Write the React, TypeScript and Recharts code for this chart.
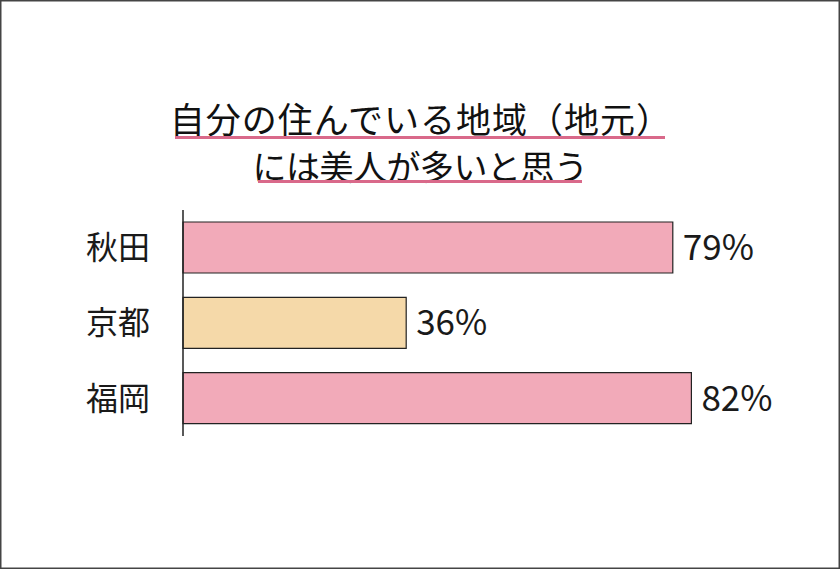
import React from "react";
import { BarChart, Bar, XAxis, YAxis, Cell, LabelList } from "recharts";

const categories = ["秋田", "京都", "福岡"];
const values = [79, 36, 82];
const barColors = ["#F2AAB9", "#F5D9A9", "#F2AAB9"];
const titleLines = ["自分の住んでいる地域（地元）", "には美人が多いと思う"];

const data = categories.map((name, i) => ({ name, value: values[i] }));

const FONT = '"Noto Sans CJK JP", "Noto Sans", sans-serif';

export default function App() {
  return (
    <div
      style={{
        position: "absolute",
        left: 0,
        top: 0,
        width: 840,
        height: 569,
        background: "#fff",
        fontFamily: FONT,
      }}
    >
      <BarChart
        width={840}
        height={569}
        data={data}
        layout="vertical"
        margin={{ top: 210, right: 37, bottom: 133, left: 83 }}
        barSize={51}
      >
        <XAxis type="number" domain={[0, 100]} hide />
        <YAxis
          type="category"
          dataKey="name"
          width={100}
          axisLine={{ stroke: "#222", strokeWidth: 1.5 }}
          tickLine={false}
          tickMargin={27}
          tick={{ fill: "#1a1a1a", fontSize: 32, fontFamily: FONT }}
        />
        <Bar dataKey="value" stroke="#222" strokeWidth={1.2} isAnimationActive={false}>
          {data.map((d, i) => (
            <Cell key={d.name} fill={barColors[i]} />
          ))}
          <LabelList
            dataKey="value"
            position="right"
            offset={10}
            formatter={(v: number) => `${v}%`}
            style={{ fill: "#1a1a1a", fontSize: 35, fontFamily: FONT }}
          />
        </Bar>
      </BarChart>
      <svg
        width={840}
        height={569}
        style={{ position: "absolute", left: 0, top: 0, pointerEvents: "none" }}
      >
        <text x={421} y={117} textAnchor="middle" dominantBaseline="central" fontSize={35} letterSpacing={1} fill="#111" fontFamily={FONT}>
          {titleLines[0]}
        </text>
        <line x1={175} x2={665} y1={137.5} y2={137.5} stroke="#D9698A" strokeWidth={3} />
        <text x={420} y={165} textAnchor="middle" dominantBaseline="central" fontSize={34} letterSpacing={-0.5} fill="#111" fontFamily={FONT}>
          {titleLines[1]}
        </text>
        <line x1={258} x2={582} y1={181.5} y2={181.5} stroke="#D9698A" strokeWidth={3} />
        <rect x={0.75} y={0.75} width={838.5} height={567.5} fill="none" stroke="#444" strokeWidth={1.5} />
      </svg>
    </div>
  );
}
